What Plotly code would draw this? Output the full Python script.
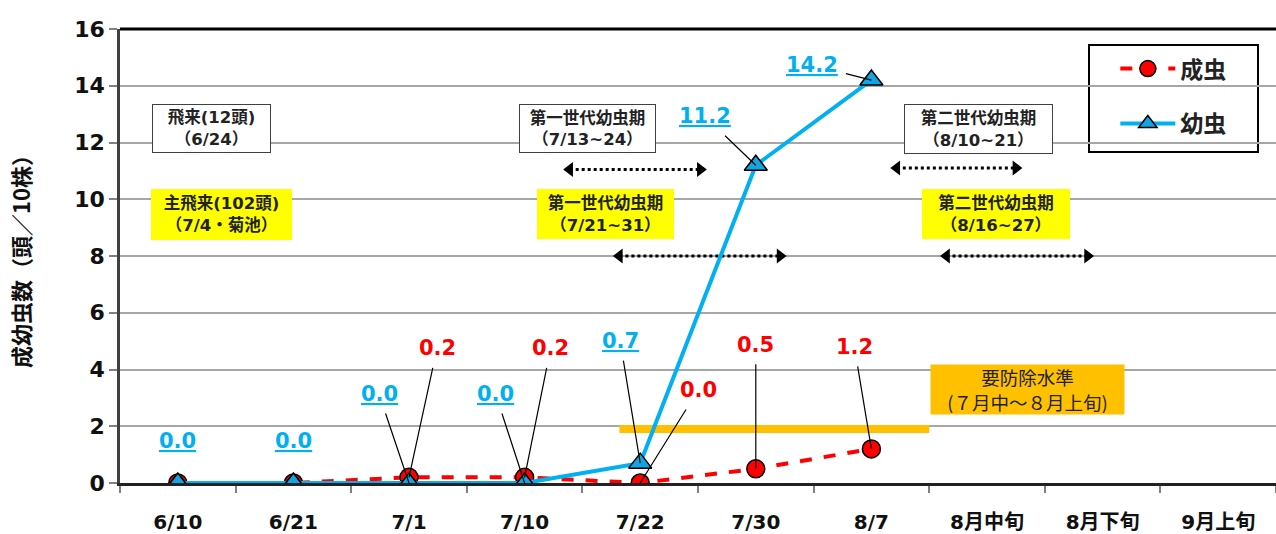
import plotly.graph_objects as go

# ---------------- data ----------------
categories = ["6/10", "6/21", "7/1", "7/10", "7/22", "7/30", "8/7", "8月中旬", "8月下旬", "9月上旬"]
adult = [0.0, 0.0, 0.2, 0.2, 0.0, 0.5, 1.2]          # 成虫
larva = [0.0, 0.0, 0.0, 0.0, 0.7, 11.2, 14.2]        # 幼虫
adult_labels = [None, None, "0.2", "0.2", "0.0", "0.5", "1.2"]
larva_labels = ["0.0", "0.0", "0.0", "0.0", "0.7", "11.2", "14.2"]
threshold = 1.9                                        # 要防除水準
y_ticks = [0, 2, 4, 6, 8, 10, 12, 14, 16]

# label offsets (pixels) for leader lines
adult_off = [None, None, (28, -129), (26, -129), (58, -93), (0, -124), (-17, -102)]
larva_off = [(0, -42), (0, -42), (-30, -89), (-29, -89), (-20, -122), (-51, -49), (-59, -15)]
larva_arrow = [False, False, True, True, True, True, True]

# period annotations: (text, x, y, bg, border, w, h)
boxes = [
    ("飛来(12頭)<br>（6/24）", 0.29, 12.48, "white", "#404040", 113, 43),
    ("主飛来(102頭)<br>（7/4・菊池）", 0.38, 9.48, "#FFFF00", "#FFFF00", 135, 45),
    ("第一世代幼虫期<br>（7/13~24）", 3.54, 12.51, "white", "#404040", 131, 43),
    ("第一世代幼虫期<br>（7/21~31）", 3.70, 9.48, "#FFFF00", "#FFFF00", 131, 44),
    ("第二世代幼虫期<br>（8/10~21）", 6.93, 12.48, "white", "#404040", 143, 44),
    ("第二世代幼虫期<br>（8/16~27）", 7.08, 9.48, "#FFFF00", "#FFFF00", 142, 44),
]
arrows = [((3.39, 4.52), 11.05), ((3.82, 5.21), 8.0), ((6.22, 7.25), 11.1), ((6.65, 7.87), 8.0)]
thr_x = (3.82, 6.5)

LAT = "DejaVu Sans, Noto Sans CJK JP"
BLUE = "#00B0F0"
RED = "#FF0000"
NB = "\u00a0"

x_idx = list(range(len(adult)))

fig = go.Figure()

# threshold line
fig.add_trace(go.Scatter(x=list(thr_x), y=[threshold, threshold], mode="lines",
                         line=dict(color="#FFC000", width=8), showlegend=False, hoverinfo="skip"))

# dotted double arrows
for (xs, yv) in arrows:
    fig.add_trace(go.Scatter(x=list(xs), y=[yv, yv], mode="lines+markers",
                             line=dict(color="black", width=3, dash="dot"),
                             marker=dict(symbol=["triangle-left", "triangle-right"], size=13, color="black"),
                             showlegend=False, hoverinfo="skip"))

fig.add_trace(go.Scatter(x=x_idx, y=adult, name="成虫" + NB * 3, mode="lines+markers",
                         line=dict(color=RED, width=4, dash="dash"),
                         marker=dict(symbol="circle", size=18, color=RED, line=dict(color="black", width=1.5)),
                         legendgroup="a"))
fig.add_trace(go.Scatter(x=x_idx, y=larva, name="幼虫" + NB * 3, mode="lines+markers",
                         line=dict(color=BLUE, width=4),
                         marker=dict(symbol="triangle-up", size=20, color="#12A4E3", line=dict(color="black", width=1.5)),
                         legendgroup="b"))

ann = []
for i, lab in enumerate(larva_labels):
    ax, ay = larva_off[i]
    ann.append(dict(x=x_idx[i], y=larva[i], xref="x", yref="y", text=f"<u>{lab}</u>",
                    showarrow=True, arrowhead=0, arrowwidth=1.2, arrowcolor="black" if larva_arrow[i] else "rgba(0,0,0,0)",
                    ax=ax, ay=ay, axref="pixel", ayref="pixel", borderpad=7,
                    font=dict(family=LAT, size=21, color=BLUE, weight="bold")))
for i, lab in enumerate(adult_labels):
    if lab is None:
        continue
    ax, ay = adult_off[i]
    ann.append(dict(x=x_idx[i], y=adult[i], xref="x", yref="y", text=lab,
                    showarrow=True, arrowhead=0, arrowwidth=1.2, arrowcolor="black",
                    ax=ax, ay=ay, axref="pixel", ayref="pixel", borderpad=7,
                    font=dict(family=LAT, size=21, color=RED, weight="bold")))
for (t, bx, by, bg, bc, w, h) in boxes:
    ann.append(dict(x=bx, y=by, xref="x", yref="y", text=t, showarrow=False,
                    bgcolor=bg, bordercolor=bc, borderwidth=1, borderpad=2, width=w, height=h,
                    font=dict(family=LAT, size=16.5, color="#222222", weight="bold")))
ann.append(dict(x=7.35, y=3.28, xref="x", yref="y", text="要防除水準<br>(７月中～８月上旬)",
                showarrow=False, bgcolor="#FFC000", borderpad=1, width=191, height=47,
                font=dict(family="Noto Sans CJK JP", size=18.5, color="#222222")))

fig.update_layout(
    width=1276, height=534,
    margin=dict(l=120, r=0, t=29, b=51, autoexpand=False),
    plot_bgcolor="white", paper_bgcolor="white",
    annotations=ann,
    legend=dict(x=0.861, y=0.96, xanchor="left", yanchor="top",
                borderwidth=0, bgcolor="rgba(0,0,0,0)",
                font=dict(family="Noto Sans CJK JP", size=23, color="#222222", weight="bold"),
                itemwidth=55, tracegroupgap=22, traceorder="grouped"),
    shapes=[
        dict(type="line", xref="paper", yref="paper", x0=0, x1=1, y0=1, y1=1,
             line=dict(color="black", width=3)),
        dict(type="rect", xref="paper", yref="paper",
             x0=(1089 - 120) / 1156, x1=(1258 - 120) / 1156,
             y0=(483 - 152) / 454, y1=(483 - 45) / 454,
             line=dict(color="black", width=2), fillcolor="white", layer="below"),
    ],
)

fig.update_xaxes(
    automargin=False,
    range=[-0.5, len(categories) - 0.5],
    tickmode="array", tickvals=list(range(len(categories))), ticktext=categories,
    ticks="", showgrid=False, zeroline=False,
    showline=True, linecolor="#222222", linewidth=3,
    tickfont=dict(family=LAT, size=20, color="#111111", weight="bold"),
    ticklabelstandoff=19,
    minor=dict(tickmode="array", tickvals=[i - 0.5 for i in range(len(categories) + 1)],
               ticks="outside", ticklen=7, tickcolor="#808080", tickwidth=1.5, showgrid=False),
)
fig.update_yaxes(
    automargin=False,
    range=[0, 16], tickmode="array", tickvals=y_ticks,
    showgrid=True, gridcolor="#A6A6A6", gridwidth=1.5, zeroline=False,
    showline=True, linecolor="#404040", linewidth=2.5,
    ticks="outside", ticklen=8, tickcolor="#808080", tickwidth=1.5,
    tickfont=dict(family=LAT, size=22, color="#111111", weight="bold"),
    title=dict(text="成幼虫数（頭／10株）", standoff=38,
               font=dict(family="Noto Sans CJK JP", size=22, color="#111111", weight="bold")),
)

fig.write_html("out.html", config={"displayModeBar": False},
               post_script="document.body.style.margin='0';document.documentElement.style.overflow='hidden';")
